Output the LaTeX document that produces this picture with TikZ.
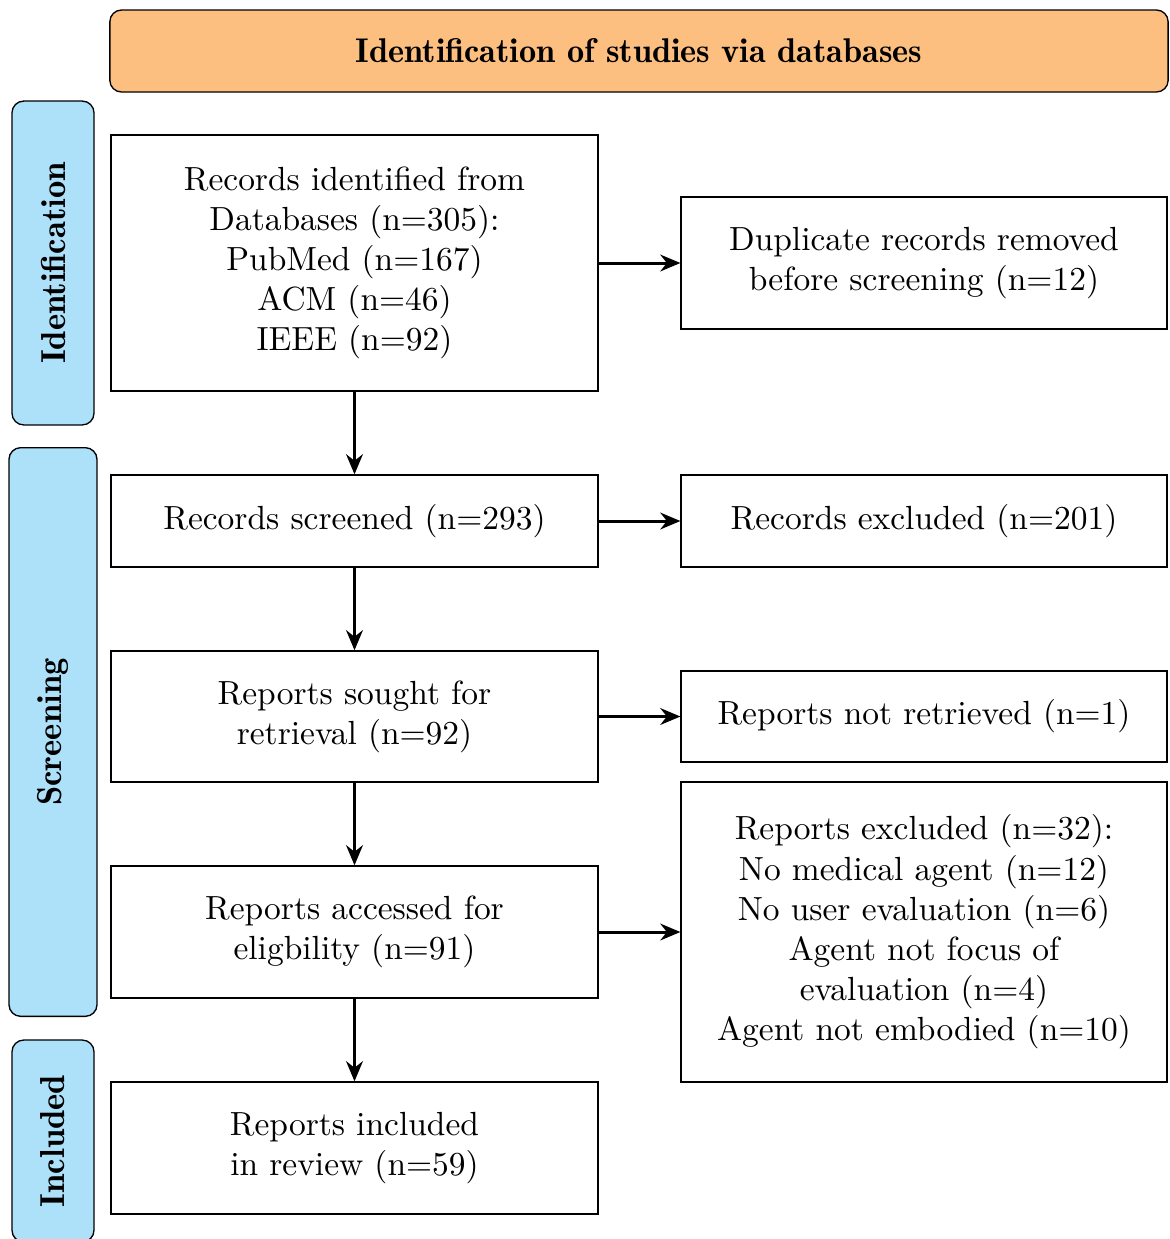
\documentclass[tikz,border=0pt]{standalone}
\usepackage{xcolor}
\usepackage{tikz}
\usetikzlibrary{arrows.meta}

\definecolor{headorange}{HTML}{FDBF80}
\definecolor{stageblue}{HTML}{ADE1FA}

\begin{document}
\begin{tikzpicture}[
      x=0.0105cm, y=-0.0105cm,
      box/.style={draw, rectangle, align=center, inner sep=2pt, minimum width=5.11cm},
      head/.style={draw, rounded corners=3.5pt, fill=headorange, font=\fontseries{b}\fontsize{10.25pt}{12pt}\selectfont,
        minimum width=11.11cm, minimum height=0.861cm},
      stage/.style={draw, rounded corners=3.5pt, fill=stageblue, font=\fontseries{b}\fontsize{10.35pt}{12pt}\selectfont,
        rotate=90, minimum height=0.861cm},
      flow/.style={-{Stealth[length=6pt,width=5pt]}, line width=0.9pt}
    ]
      \useasboundingbox (0,0) rectangle (1169,1239);

      \node[head] (hdr) at (639,51) {Identification of studies via databases};

      \node[stage, minimum width=3.40cm] (sid) at (53,263) {Identification};
      \node[stage, minimum width=5.97cm, minimum height=0.924cm] (sscr) at (53,732) {Screening};
      \node[stage, minimum width=2.12cm] (sinc) at (53,1141) {Included};

      \node[box, minimum height=2.69cm] (ident) at (354.5,263)
        {Records identified from\\ Databases (n=305):\\ PubMed (n=167)\\ ACM (n=46)\\ IEEE (n=92)};
      \node[box, minimum height=0.966cm] (scr) at (354.5,521) {Records screened (n=293)};
      \node[box, minimum height=1.376cm] (sought) at (354.5,716.5) {Reports sought for\\ retrieval (n=92)};
      \node[box, minimum height=1.386cm] (elig) at (354.5,932) {Reports accessed for\\ eligbility (n=91)};
      \node[box, minimum height=1.386cm] (incl) at (354.5,1148) {Reports included\\ in review (n=59)};

      \node[box, minimum width=5.10cm, minimum height=1.386cm] (dup) at (924,263)
        {Duplicate records removed\\ before screening (n=12)};
      \node[box, minimum width=5.10cm, minimum height=0.966cm] (excl) at (924,521) {Records excluded (n=201)};
      \node[box, minimum width=5.10cm, minimum height=0.955cm] (notret) at (924,716.5) {Reports not retrieved (n=1)};
      \node[box, minimum width=5.10cm, minimum height=3.15cm] (rexcl) at (924,932)
        {Reports excluded (n=32):\\ No medical agent (n=12)\\ No user evaluation (n=6)\\ Agent not focus of\\ evaluation (n=4)\\ Agent not embodied (n=10)};

      \draw[flow] (ident) -- (scr);
      \draw[flow] (scr) -- (sought);
      \draw[flow] (sought) -- (elig);
      \draw[flow] (elig) -- (incl);

      \draw[flow] (ident) -- (dup);
      \draw[flow] (scr) -- (excl);
      \draw[flow] (sought) -- (notret);
      \draw[flow] (elig) -- (rexcl);
    \end{tikzpicture}
\end{document}
